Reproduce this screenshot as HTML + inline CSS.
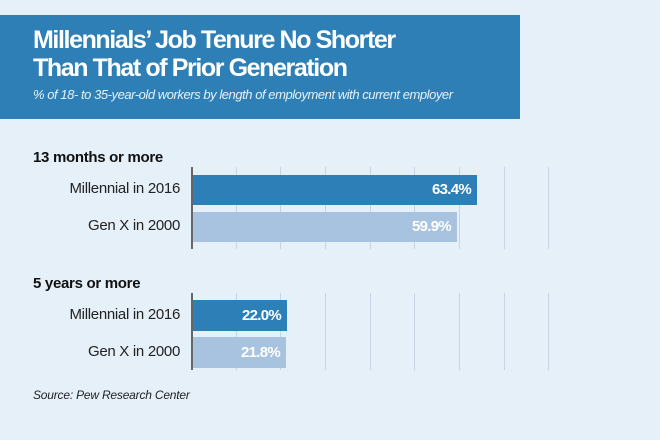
<!DOCTYPE html>
<html><head><style>
body{margin:0;width:660px;height:440px;background:#e5f0f9;position:relative;overflow:hidden;font-family:"Liberation Sans",sans-serif}
.hdr{position:absolute;left:0;top:15px;width:520px;height:104px;background:#2d7fb6}
.t{position:absolute;left:33px;color:#fff;font-weight:bold;font-size:25px;letter-spacing:-1.4px;line-height:28px;top:11px}
.s{position:absolute;left:33px;top:72px;color:#e8f1f8;font-style:italic;font-size:13px;letter-spacing:-0.45px}
.sec{position:absolute;left:33px;font-weight:bold;font-size:15px;color:#111;letter-spacing:-0.3px}
.lab{position:absolute;right:480px;font-size:15px;color:#222;text-align:right;white-space:nowrap;letter-spacing:-0.3px}
.bar{position:absolute;left:193px;color:#fff;font-weight:bold;font-size:15px;text-align:right;box-sizing:border-box;padding-right:6px;letter-spacing:-0.7px}
.g{position:absolute;width:1px;background:#c5d5e4}
.ax{position:absolute;left:191px;width:2px;background:#666}
.src{position:absolute;left:33px;top:388px;font-style:italic;font-size:12px;color:#222;letter-spacing:-0.2px}
</style></head><body>
<div class="hdr"><div class="t">Millennials’ Job Tenure No Shorter<br>Than That of Prior Generation</div>
<div class="s">% of 18- to 35-year-old workers by length of employment with current employer</div></div>
<div class="sec" style="top:149px">13 months or more</div>
<div class="sec" style="top:275px">5 years or more</div>
<div class="g" style="left:236px;top:167px;height:82px"></div><div class="g" style="left:280px;top:167px;height:82px"></div><div class="g" style="left:325px;top:167px;height:82px"></div><div class="g" style="left:370px;top:167px;height:82px"></div><div class="g" style="left:414px;top:167px;height:82px"></div><div class="g" style="left:459px;top:167px;height:82px"></div><div class="g" style="left:504px;top:167px;height:82px"></div><div class="g" style="left:548px;top:167px;height:82px"></div>
<div class="g" style="left:236px;top:293px;height:77px"></div><div class="g" style="left:280px;top:293px;height:77px"></div><div class="g" style="left:325px;top:293px;height:77px"></div><div class="g" style="left:370px;top:293px;height:77px"></div><div class="g" style="left:414px;top:293px;height:77px"></div><div class="g" style="left:459px;top:293px;height:77px"></div><div class="g" style="left:504px;top:293px;height:77px"></div><div class="g" style="left:548px;top:293px;height:77px"></div>
<div class="ax" style="top:167px;height:82px"></div>
<div class="ax" style="top:293px;height:77px"></div>
<div class="lab" style="top:180px">Millennial in 2016</div>
<div class="lab" style="top:217px">Gen X in 2000</div>
<div class="lab" style="top:306px">Millennial in 2016</div>
<div class="lab" style="top:343px">Gen X in 2000</div>
<div class="bar" style="top:175px;height:30px;line-height:30px;width:284px;background:#2d80b7">63.4%</div>
<div class="bar" style="top:212px;height:30px;line-height:30px;width:264px;background:#a8c3df">59.9%</div>
<div class="bar" style="top:300px;height:31px;line-height:31px;width:94px;background:#2d80b7">22.0%</div>
<div class="bar" style="top:337px;height:31px;line-height:31px;width:93px;background:#a8c3df">21.8%</div>
<div class="src">Source: Pew Research Center</div>
</body></html>
